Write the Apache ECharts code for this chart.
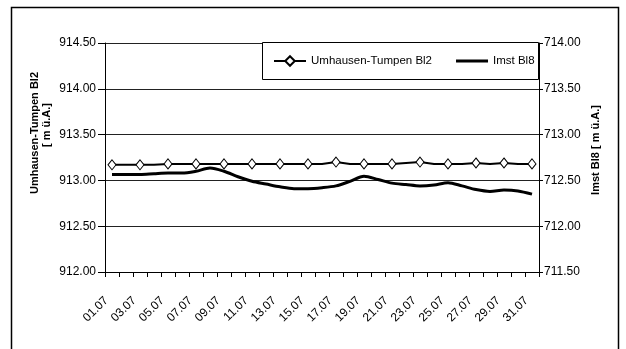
<!DOCTYPE html>
<html><head><meta charset="utf-8">
<script src="https://cdn.jsdelivr.net/npm/echarts@6/dist/echarts.min.js"></script>
<style>html,body{margin:0;padding:0;background:#fff}#c{width:626px;height:349px}</style>
</head><body><div id="c"></div>
<script>
const categories = ["01.07","02.07","03.07","04.07","05.07","06.07","07.07","08.07","09.07","10.07","11.07","12.07","13.07","14.07","15.07","16.07","17.07","18.07","19.07","20.07","21.07","22.07","23.07","24.07","25.07","26.07","27.07","28.07","29.07","30.07","31.07"];
const umhausen = [913.17,913.17,913.17,913.17,913.18,913.18,913.18,913.18,913.18,913.18,913.18,913.18,913.18,913.18,913.18,913.18,913.20,913.18,913.18,913.18,913.18,913.19,913.20,913.18,913.18,913.18,913.19,913.18,913.19,913.18,913.18];
const imst = [712.565,712.565,712.565,712.573,712.58,712.58,712.60,712.635,712.60,712.54,712.49,712.46,712.43,712.41,712.41,712.42,712.44,712.49,712.545,712.51,712.47,712.455,712.44,712.45,712.475,712.44,712.40,712.38,712.395,712.385,712.35];
const leftTicks = {min:912, max:914.5, interval:0.5};
const rightTicks = {min:711.5, max:714, interval:0.5};
const seriesNames = ["Umhausen-Tumpen Bl2","Imst Bl8"];
const leftTitle = ["Umhausen-Tumpen Bl2","[ m ü.A.]"];
const rightTitle = "Imst Bl8 [ m ü.A.]";

const font = "'Liberation Sans', Arial, sans-serif";
const chart = echarts.init(document.getElementById('c'), null, {renderer:'canvas'});
chart.setOption({
  animation:false,
  backgroundColor:'#fff',
  textStyle:{fontFamily:font},
  grid:{left:105, right:87, top:43, bottom:77, containLabel:false},
  graphic:[
    {type:'rect', shape:{x:11.5,y:7.5,width:607,height:360}, style:{fill:'none',stroke:'#000',lineWidth:1.5}, z:-1},
    {type:'rect', shape:{x:262.5,y:42.5,width:276,height:37}, style:{fill:'#fff',stroke:'#000',lineWidth:1}, z:5},
    {type:'text', x:35, y:133, rotation:Math.PI/2, style:{text:leftTitle[0], font:'bold 11px '+font, fill:'#000', align:'center', verticalAlign:'middle'}, z:10},
    {type:'text', x:47, y:125, rotation:Math.PI/2, style:{text:leftTitle[1], font:'bold 11px '+font, fill:'#000', align:'center', verticalAlign:'middle'}, z:10},
    {type:'text', x:596, y:150, rotation:Math.PI/2, style:{text:rightTitle, font:'bold 11px '+font, fill:'#000', align:'center', verticalAlign:'middle'}, z:10}
  ],
  legend:{
    left:273, top:55, padding:0, itemGap:24, itemWidth:32, itemHeight:12, z:20,
    textStyle:{fontFamily:font, fontSize:11.5, color:'#000'},
    data:[{name:seriesNames[0]},{name:seriesNames[1], icon:'path://M0,0 L32,0 L32,3 L0,3 Z'}]
  },
  xAxis:{
    type:'category', data:categories, boundaryGap:true,
    axisLine:{lineStyle:{color:'#000',width:1}},
    axisTick:{show:true, interval:0, length:5, lineStyle:{color:'#000'}},
    axisLabel:{interval:1, rotate:45, fontSize:12, color:'#000', fontFamily:font, margin:21, padding:[0,8,0,0]},
    splitLine:{show:false}
  },
  yAxis:[
    {type:'value', min:leftTicks.min, max:leftTicks.max, interval:leftTicks.interval, position:'left',
     axisLine:{show:true, lineStyle:{color:'#000'}}, axisTick:{show:true, length:7, lineStyle:{color:'#000'}},
     axisLabel:{formatter:v=>v.toFixed(2), fontSize:12, color:'#000', fontFamily:font, margin:9},
     splitLine:{show:true, lineStyle:{color:'#222', width:1}}},
    {type:'value', min:rightTicks.min, max:rightTicks.max, interval:rightTicks.interval, position:'right',
     axisLine:{show:true, lineStyle:{color:'#000'}}, axisTick:{show:true, length:4, lineStyle:{color:'#000'}},
     axisLabel:{formatter:v=>v.toFixed(2), fontSize:12, color:'#000', fontFamily:font, margin:5},
     splitLine:{show:false}}
  ],
  series:[
    {name:seriesNames[0], type:'line', yAxisIndex:0, data:umhausen, symbol:'diamond', symbolSize:[8,10],
     itemStyle:{color:'#fff', borderColor:'#000', borderWidth:1}, lineStyle:{color:'#000', width:2}, z:3},
    {name:seriesNames[1], type:'line', yAxisIndex:1, data:imst, symbol:'none', smooth:0.3,
     itemStyle:{color:'#000'}, lineStyle:{color:'#000', width:3}, z:2}
  ]
});
</script></body></html>
